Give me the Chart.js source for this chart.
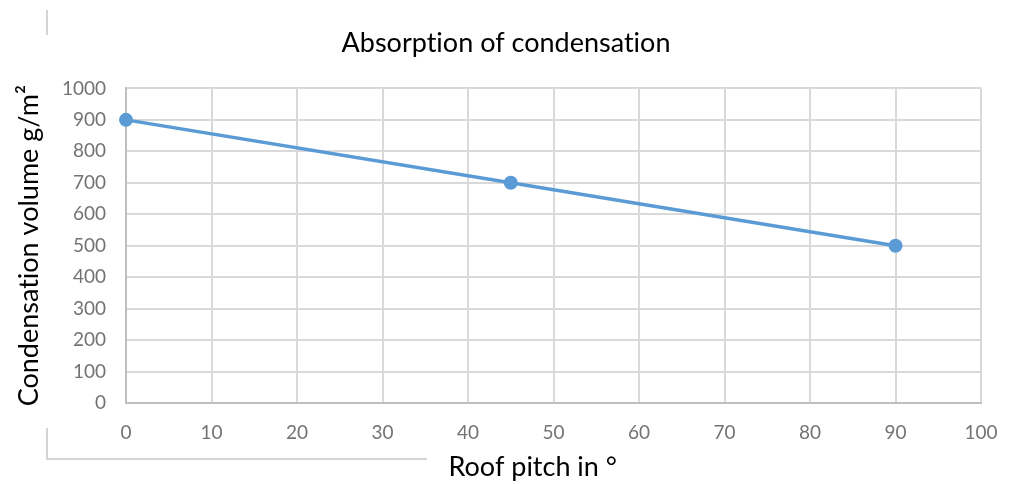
<!DOCTYPE html>
<html>
<head>
<meta charset="utf-8">
<script src="https://cdn.jsdelivr.net/npm/chart.js@4.4.0/dist/chart.umd.min.js"></script>
<style>
  html, body { margin: 0; padding: 0; background: #fff; }
  #wrap { width: 1012px; height: 484px; }
</style>
</head>
<body>
<div id="wrap"><canvas id="mycanvas"></canvas></div>
<script>
// roof pitch (deg) vs condensation volume (g/m2)
var pitch = [0, 45, 90];
var volume = [900, 700, 500];
var xTicks = [0, 10, 20, 30, 40, 50, 60, 70, 80, 90, 100];
var yTicks = [0, 100, 200, 300, 400, 500, 600, 700, 800, 900, 1000];

var points = [];
for (var i in pitch) {
    points.push({x: pitch[i], y: volume[i]});
}

// the grey bracket lines left over from the original cut-out
// (also switches off the "ti" ligature so text looks like the original)
var frameLines = {
    id: 'frameLines',
    beforeDraw: function (chart) {
        chart.ctx.textRendering = 'optimizeSpeed';
    },
    afterDraw: function (chart) {
        var c = chart.ctx;
        c.save();
        c.strokeStyle = '#d4d4d4';
        c.lineWidth = 2;
        c.beginPath();
        c.moveTo(47, 10); c.lineTo(47, 35);
        c.moveTo(47, 428); c.lineTo(47, 459); c.lineTo(427, 459);
        c.stroke();
        c.restore();
    }
};

var ctx = document.getElementById('mycanvas');
new Chart(ctx, {
    type: 'line',
    data: {
        datasets: [{
            label: 'Condensation',
            data: points,
            borderColor: '#5b9bd5',
            backgroundColor: '#5b9bd5',
            borderWidth: 3.5,
            pointRadius: 7,
            pointBorderWidth: 0,
            tension: 0,
            clip: false
        }]
    },
    options: {
        responsive: true,
        maintainAspectRatio: false,
        animation: false,
        layout: {padding: 0},
        plugins: {
            legend: {display: false},
            tooltip: {enabled: false},
            title: {
                display: true,
                text: 'Absorption of condensation',
                color: '#000',
                font: {family: 'Lato', size: 27, weight: 'normal'},
                padding: {top: 27, bottom: 29}
            }
        },
        scales: {
            x: {
                type: 'linear',
                min: 0,
                max: 100,
                afterBuildTicks: function (axis) {
                    axis.ticks = xTicks.map(function (v) { return {value: v}; });
                },
                afterFit: function (axis) {
                    axis.height = 81;
                    axis.paddingRight = 31;
                },
                grid: {color: '#d9d9d9', lineWidth: 2, drawTicks: false},
                border: {color: '#bfbfbf', width: 2},
                ticks: {color: '#737373', font: {family: 'Lato', size: 19}, padding: 18, maxRotation: 0},
                title: {
                    display: true,
                    text: 'Roof pitch in °\u00a0\u00a0\u00a0\u00a0\u00a0\u00a0',
                    color: '#000',
                    font: {family: 'Lato', size: 27},
                    padding: {top: 0, bottom: 1}
                }
            },
            y: {
                min: 0,
                max: 1000,
                afterBuildTicks: function (axis) {
                    axis.ticks = yTicks.map(function (v) { return {value: v}; });
                },
                afterFit: function (axis) { axis.width = 126; },
                grid: {color: '#d9d9d9', lineWidth: 2, drawTicks: false},
                border: {color: '#bfbfbf', width: 2},
                ticks: {
                    color: '#737373',
                    font: {family: 'Lato', size: 19},
                    padding: 20,
                    callback: function (v) { return String(v); }
                },
                title: {
                    display: true,
                    text: 'Condensation volume g/m²',
                    color: '#000',
                    font: {family: 'Lato', size: 27},
                    padding: {top: 13, bottom: 0}
                }
            }
        }
    },
    plugins: [frameLines]
});
</script>
</body>
</html>
